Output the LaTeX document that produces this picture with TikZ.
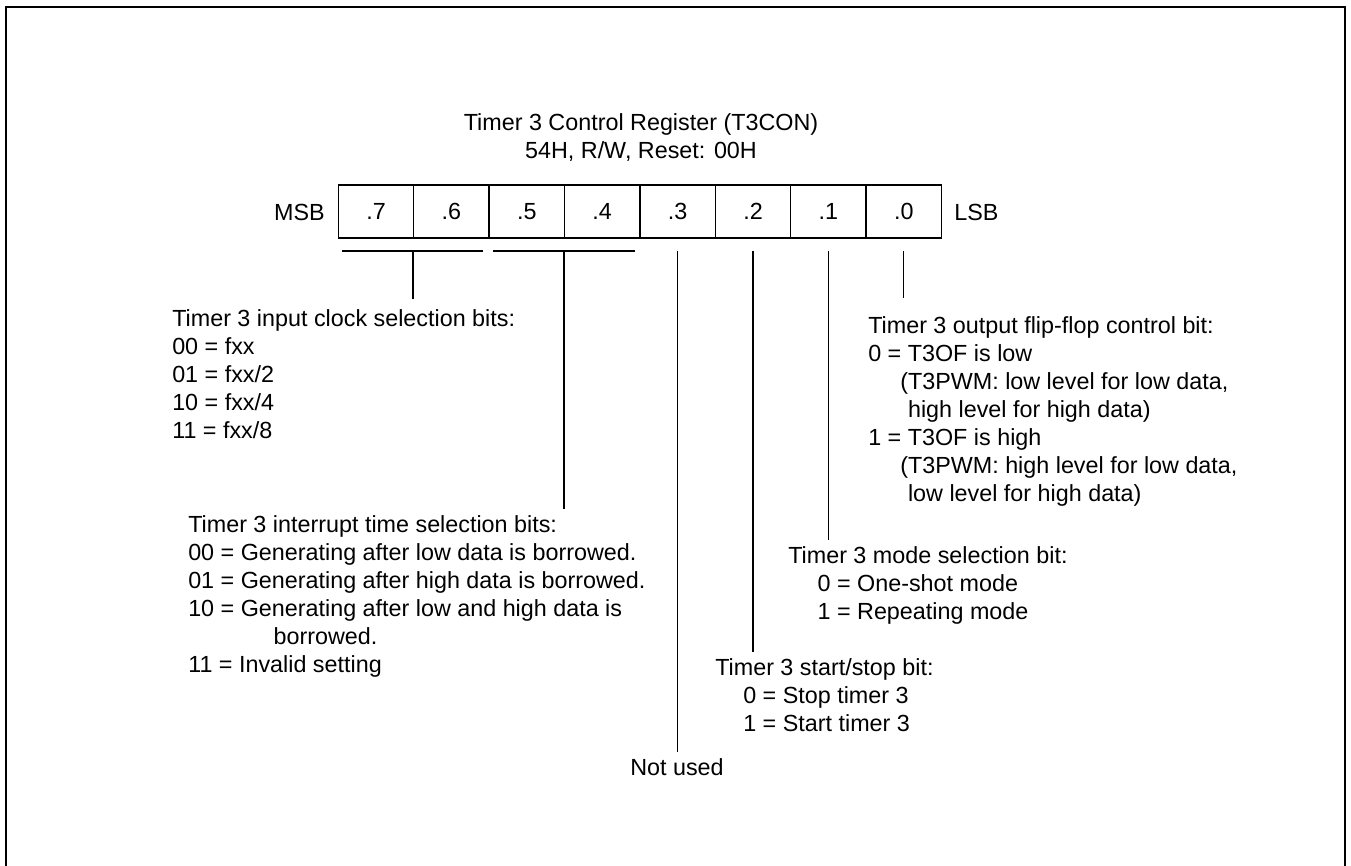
\documentclass[tikz,border=0pt]{standalone}
\usepackage{fontspec}
\setmainfont{Liberation Sans}
\begin{document}
\begin{tikzpicture}[x=0.75pt,y=-0.75pt,
  every node/.style={font=\fontsize{17.5}{21}\selectfont},
  cell/.style={draw,line width=1.1pt,minimum width=56.55pt,minimum height=39.75pt,inner sep=0pt,anchor=center},
  blk/.style={align=left,inner sep=0pt,anchor=north west},
  lnk/.style={line width=0.9pt}]
\useasboundingbox (0,0) rectangle (1351,866);
\draw[line width=1.8pt] (6,866) -- (6,7) -- (1345,7) -- (1345,866);
% title
\node[align=center,inner sep=0pt,anchor=north] (title) at (641,113.4) {Timer 3 Control Register (T3CON)\\54H, R/W, Reset: 00H};
% register cells
\foreach \b [count=\i from 0] in {7,6,5,4,3,2,1,0}{
  \node[cell] (c\b) at ({376+75.4*\i},211.5) {.\b};
}
\node[inner sep=0pt,anchor=east] (msb) at (325,212) {MSB};
\node[inner sep=0pt,anchor=west] (lsb) at (954,212) {LSB};
% brackets
\coordinate (b76l) at (342,251); \coordinate (b76r) at (483,251);
\coordinate (b54l) at (493,251); \coordinate (b54r) at (635,251);
\coordinate (b76) at (413,251); \coordinate (b54) at (564,251);
\draw[lnk] (b76l) -- (b76r);
\draw[lnk] (b54l) -- (b54r);
% text blocks
\node[blk] (clk) at (172,309.4) {Timer 3 input clock selection bits:\\00 = fxx\\01 = fxx/2\\10 = fxx/4\\11 = fxx/8};
\node[blk] (intr) at (188,515.4) {Timer 3 interrupt time selection bits:\\00 = Generating after low data is borrowed.\\01 = Generating after high data is borrowed.\\10 = Generating after low and high data is\\\hspace*{64pt}borrowed.\\11 = Invalid setting};
\node[blk] (ff) at (868,316.4) {Timer 3 output flip-flop control bit:\\0 = T3OF is low\\\hspace*{24pt}(T3PWM: low level for low data,\\\hspace*{24pt}\phantom{(}high level for high data)\\1 = T3OF is high\\\hspace*{24pt}(T3PWM: high level for low data,\\\hspace*{24pt}\phantom{(}low level for high data)};
\node[blk] (mode) at (788,546.4) {Timer 3 mode selection bit:\\\hspace*{22pt}0 = One-shot mode\\\hspace*{22pt}1 = Repeating mode};
\node[blk] (ss) at (715,658.4) {Timer 3 start/stop bit:\\\hspace*{21pt}0 = Stop timer 3\\\hspace*{21pt}1 = Start timer 3};
\node[inner sep=0pt,anchor=north] (nu) at (677,758.4) {Not used};
% connectors
\draw[lnk] (b76) -- ([yshift=8pt]b76 |- clk.north);
\draw[lnk] (b54) -- ([yshift=5pt]b54 |- intr.north);
\draw[lnk] (c3.south |- b76) -- ([yshift=5pt]c3.south |- nu.north);
\draw[lnk] (c2.south |- b76) -- ([yshift=5pt]c2.south |- ss.north);
\draw[lnk] (c1.south |- b76) -- ([yshift=5pt]c1.south |- mode.north);
\draw[lnk] (c0.south |- b76) -- ([yshift=14pt]c0.south |- ff.north);
\end{tikzpicture}
\end{document}
